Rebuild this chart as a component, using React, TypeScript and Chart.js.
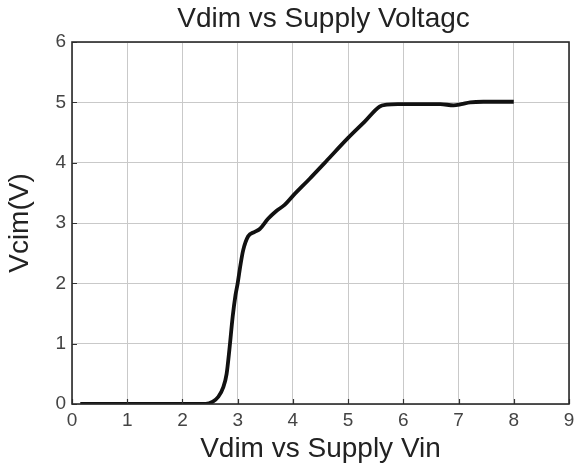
import React, { useEffect, useRef } from "react";
import { Chart, registerables } from "chart.js";

Chart.register(...registerables);

const chartTitle = "Vdim vs Supply Voltagc";
const xAxisTitle = "Vdim vs Supply Vin";
const yAxisTitle = "Vcim(V)";

const vinValues = [
  0.15, 1.0, 2.0, 2.42, 2.55, 2.65, 2.74, 2.8, 2.85, 2.91, 2.96, 3.0, 3.05, 3.1, 3.19,
  3.3, 3.4, 3.55, 3.7, 3.85, 4.0, 4.3, 4.6, 5.0, 5.3, 5.57, 5.7,
  5.9, 6.2, 6.67, 6.91, 7.05, 7.21, 7.45, 7.7, 8.0,
];
const vdimValues = [
  0, 0, 0, 0, 0.04, 0.12, 0.28, 0.5, 0.9, 1.45, 1.8, 2.0, 2.3, 2.55, 2.78,
  2.85, 2.9, 3.07, 3.2, 3.3, 3.45, 3.73, 4.02, 4.41, 4.68, 4.93, 4.96,
  4.97, 4.97, 4.97, 4.95, 4.97, 5.0, 5.01, 5.01, 5.01,
];
const xTicks = [0, 1, 2, 3, 4, 5, 6, 7, 8, 9];
const yTicks = [0, 1, 2, 3, 4, 5, 6];

const FONT = "'Liberation Sans', Arial, sans-serif";

const framePlugin = {
  id: "frame",
  afterDraw(chart: any) {
    const { ctx, chartArea, scales } = chart;
    const { left, right, top, bottom } = chartArea;
    ctx.save();
    ctx.strokeStyle = "#333";
    ctx.lineWidth = 1.2;
    ctx.beginPath();
    xTicks.forEach((v) => {
      const x = Math.round(scales.x.getPixelForValue(v)) + 0.5;
      ctx.moveTo(x, bottom);
      ctx.lineTo(x, bottom - 5);
    });
    yTicks.forEach((v) => {
      const y = Math.round(scales.y.getPixelForValue(v)) + 0.5;
      ctx.moveTo(left, y);
      ctx.lineTo(left + 5, y);
    });
    ctx.stroke();
    ctx.strokeStyle = "#2a2a2a";
    ctx.lineWidth = 1.6;
    ctx.strokeRect(left, top, right - left, bottom - top);
    ctx.fillStyle = "#222";
    ctx.font = `28px ${FONT}`;
    ctx.textAlign = "center";
    ctx.textBaseline = "middle";
    ctx.fillText(chartTitle, (left + right) / 2 + 3, 19);
    ctx.restore();
  },
};

export default function App() {
  const ref = useRef<HTMLCanvasElement>(null);
  useEffect(() => {
    const chart = new Chart(ref.current!, {
      type: "line",
      data: {
        datasets: [
          {
            data: vinValues.map((x, i) => ({ x, y: vdimValues[i] })),
            borderColor: "#111",
            borderWidth: 3.8,
            pointRadius: 0,
            cubicInterpolationMode: "monotone",
            fill: false,
          },
        ],
      },
      options: {
        animation: false,
        responsive: false,
        layout: { padding: { top: 42, right: 7, left: 0, bottom: 0 } },
        plugins: { legend: { display: false }, tooltip: { enabled: false }, title: { display: false } },
        scales: {
          x: {
            type: "linear",
            min: 0,
            max: 9,
            afterBuildTicks: (s: any) => {
              s.ticks = xTicks.map((v) => ({ value: v }));
            },
            afterFit: (s: any) => {
              s.height = 70;
              s.paddingLeft = 0;
              s.paddingRight = 0;
            },
            grid: { color: "#c9c9c9", lineWidth: 1, drawTicks: false },
            border: { display: false },
            ticks: { color: "#444", font: { family: FONT, size: 19 }, padding: 5 },
            title: {
              display: true,
              text: xAxisTitle,
              color: "#222",
              font: { family: FONT, size: 28 },
              padding: { top: 0, bottom: 8 },
            },
          },
          y: {
            type: "linear",
            min: 0,
            max: 6,
            afterBuildTicks: (s: any) => {
              s.ticks = yTicks.map((v) => ({ value: v }));
            },
            afterFit: (s: any) => {
              s.width = 72;
              s.paddingTop = 0;
              s.paddingBottom = 0;
            },
            grid: { color: "#c9c9c9", lineWidth: 1, drawTicks: false },
            border: { display: false },
            ticks: { color: "#444", font: { family: FONT, size: 19 }, padding: 6 },
            title: {
              display: true,
              text: yAxisTitle,
              color: "#222",
              font: { family: FONT, size: 28 },
              padding: { top: 3, bottom: 0 },
            },
          },
        },
      },
      plugins: [framePlugin],
    } as any);
    return () => chart.destroy();
  }, []);
  return (
    <div style={{ position: "fixed", left: 0, top: 0, width: 576, height: 474, background: "#fff" }}>
      <canvas ref={ref} width={576} height={474} style={{ display: "block" }} />
    </div>
  );
}
